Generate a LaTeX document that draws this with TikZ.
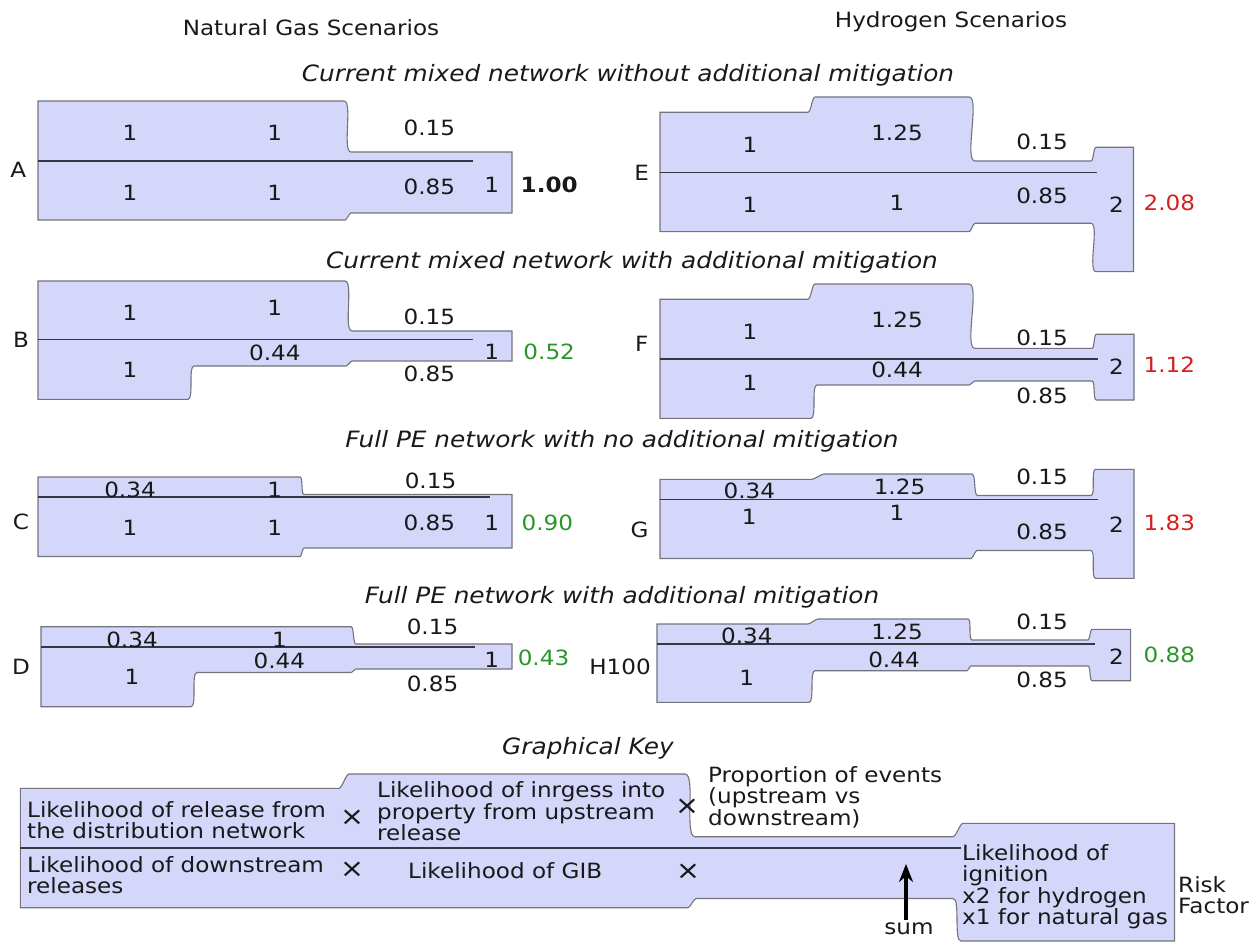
\documentclass[tikz,border=0pt]{standalone}
\usepackage{fontspec}
\setmainfont{DejaVu Sans}[FakeStretch=1.1]
\usetikzlibrary{arrows.meta}
\definecolor{bandfill}{RGB}{212,215,250}
\definecolor{bandedge}{RGB}{115,115,125}
\definecolor{midline}{RGB}{55,55,68}
\definecolor{txt}{RGB}{25,25,25}
\definecolor{good}{RGB}{40,150,40}
\definecolor{bad}{RGB}{215,30,30}
\newcommand\bodyfs{\fontsize{21}{21.5}\selectfont}
\newcommand\titlefs{\fontsize{22.5}{24}\selectfont\itshape}
\newcommand\crossfs{\fontsize{26}{26}\selectfont}
\begin{document}
\begin{tikzpicture}[x=1pt,y=-1pt,
  band/.style={fill=bandfill,draw=bandedge,line width=1.1pt},
  mid/.style={draw=midline,line width=1.6pt},
  sd/.style={out=0,in=180,looseness=0.45},
  su/.style={out=180,in=0,looseness=0.45},
  val/.style={font=\bodyfs,text=txt,inner sep=0pt,anchor=center},
  cross/.style={font=\crossfs,text=txt,inner sep=0pt,anchor=center},
  ttl/.style={font=\titlefs,text=txt,inner sep=0pt,anchor=center},
  keytext/.style={font=\bodyfs,text=txt,inner sep=0pt,anchor=west,align=left},
  goodv/.style={val,text=good},
  badv/.style={val,text=bad},
  arr/.style={-{Stealth[length=18pt,width=14pt]},line width=3.2pt,draw=black}]
\useasboundingbox (0,0) rectangle (1254,944);

% headings
\node[val] (ng) at (311,28) {Natural Gas Scenarios};
\node[val] (hs) at (951,22) {Hydrogen Scenarios};
\node[ttl] (t1) at (628,75) {Current mixed network without additional mitigation};
\node[ttl] (t2) at (632,262) {Current mixed network with additional mitigation};
\node[ttl] (t3) at (622,441) {Full PE network with no additional mitigation};
\node[ttl] (t4) at (622,597) {Full PE network with additional mitigation};
\node[ttl] (tk) at (588,748) {Graphical Key};

% ---------- Panel A ----------
\draw[band] (38,101) -- (344,101) to[sd] (351,152) -- (512,152) -- (512,213) -- (351,213) to[su] (345,220) -- (38,220) -- cycle;
\draw[mid] (38,161) -- (472.6,161);
\node[val] (lA) at (18.4,170) {A};
\node[val] (a1) at (130,133.3) {1};
\node[val] (a2) at (274.8,133.3) {1};
\node[val] (a3) at (429.4,128.3) {0.15};
\node[val] (a4) at (130,193.3) {1};
\node[val] (a5) at (274.8,193.3) {1};
\node[val] (a6) at (429.4,186.7) {0.85};
\node[val] (a7) at (491.8,185) {1};
\node[val] (a8) at (549.2,185) {\bfseries 1.00};

% ---------- Panel B ----------
\draw[band] (38,281) -- (345,281) to[sd] (352,331) -- (512,331) -- (512,361) -- (352,361) to[su] (346,366) -- (194,366) to[su] (188,399.3) -- (38,399.3) -- cycle;
\draw[mid] (38,339.5) -- (472.6,339.5);
\node[val] (lB) at (21,340) {B};
\node[val] (b1) at (130,313.3) {1};
\node[val] (b2) at (274.8,308.3) {1};
\node[val] (b3) at (429.4,316.7) {0.15};
\node[val] (b4) at (130,370) {1};
\node[val] (b5) at (274.8,353.3) {0.44};
\node[val] (b6) at (429.4,374.3) {0.85};
\node[val] (b7) at (491.8,351.7) {1};
\node[goodv] (b8) at (549.2,351.7) {0.52};

% ---------- Panel C ----------
\draw[band] (38,477) -- (300,477) to[sd] (304,494.5) -- (512,494.5) -- (512,548) -- (304,548) to[su] (300,556.5) -- (38,556.5) -- cycle;
\draw[mid] (38,497) -- (490,497);
\node[val] (lC) at (21,521.7) {C};
\node[val] (c1) at (130,490) {0.34};
\node[val] (c2) at (274.8,490) {1};
\node[val] (c3) at (430.5,480.7) {0.15};
\node[val] (c4) at (130,528.3) {1};
\node[val] (c5) at (274.8,528.3) {1};
\node[val] (c6) at (429.4,523.3) {0.85};
\node[val] (c7) at (491.8,523.3) {1};
\node[goodv] (c8) at (547.3,523.3) {0.90};

% ---------- Panel D ----------
\draw[band] (41,626.7) -- (351,626.7) to[sd] (356,644) -- (512,644) -- (512,669) -- (356,669) to[su] (351,672.5) -- (197,672.5) to[su] (191,706.7) -- (41,706.7) -- cycle;
\draw[mid] (41,646.7) -- (474.5,646.7);
\node[val] (lD) at (21,667.3) {D};
\node[val] (d1) at (132,640) {0.34};
\node[val] (d2) at (279.4,640) {1};
\node[val] (d3) at (432.5,626.7) {0.15};
\node[val] (d4) at (132,676.7) {1};
\node[val] (d5) at (279.4,661) {0.44};
\node[val] (d6) at (432.5,684) {0.85};
\node[val] (d7) at (491.8,660) {1};
\node[goodv] (d8) at (543.5,658.3) {0.43};

% ---------- Panel E ----------
\draw[band] (660,112.3) -- (808,112.3) to[sd] (815,97) -- (969,97) to[sd] (975,161) -- (1091,161) to[sd] (1096,147.3) -- (1133.5,147.3) -- (1133.5,271.7) -- (1096,271.7) to[su] (1091,223.3) -- (975,223.3) to[su] (969,231.7) -- (660,231.7) -- cycle;
\draw[mid] (660,172.5) -- (1097,172.5);
\node[val] (lE) at (641.7,173.3) {E};
\node[val] (e1) at (750,145) {1};
\node[val] (e2) at (897,133.3) {1.25};
\node[val] (e3) at (1042,141.7) {0.15};
\node[val] (e4) at (750,205) {1};
\node[val] (e5) at (897,202.7) {1};
\node[val] (e6) at (1042,196) {0.85};
\node[val] (e7) at (1116.4,205) {2};
\node[badv] (e8) at (1169.3,202.7) {2.08};

% ---------- Panel F ----------
\draw[band] (660,299.3) -- (808,299.3) to[sd] (815,284) -- (969,284) to[sd] (975,348.3) -- (1092,348.3) to[sd] (1096.3,334.3) -- (1134,334.3) -- (1134,400) -- (1096.3,400) to[su] (1092,381) -- (975,381) to[su] (969,385) -- (817,385) to[su] (811,418.3) -- (660,418.3) -- cycle;
\draw[mid] (660,359) -- (1098,359);
\node[val] (lF) at (641.7,344) {F};
\node[val] (f1) at (750,331.7) {1};
\node[val] (f2) at (897,320) {1.25};
\node[val] (f3) at (1042,338.3) {0.15};
\node[val] (f4) at (750,383.3) {1};
\node[val] (f5) at (897,370) {0.44};
\node[val] (f6) at (1042,396) {0.85};
\node[val] (f7) at (1116.4,366.7) {2};
\node[badv] (f8) at (1169.3,365) {1.12};

% ---------- Panel G ----------
\draw[band] (660,479.3) -- (812,479.3) to[sd] (824,474) -- (972,474) to[sd] (977.5,495.5) -- (1091,495.5) to[sd] (1095.5,469.3) -- (1134,469.3) -- (1134,578.3) -- (1095.5,578.3) to[su] (1091,550.5) -- (977,550.5) to[su] (971,558.5) -- (660,558.5) -- cycle;
\draw[mid] (660,499.5) -- (1098,499.5);
\node[val] (lG) at (639.6,530) {G};
\node[val] (g1) at (749.3,490.7) {0.34};
\node[val] (g2) at (899.5,487.3) {1.25};
\node[val] (g3) at (1042,477.3) {0.15};
\node[val] (g4) at (749.3,516.7) {1};
\node[val] (g5) at (897,513.3) {1};
\node[val] (g6) at (1042,531.7) {0.85};
\node[val] (g7) at (1116.4,525) {2};
\node[badv] (g8) at (1169.3,522.7) {1.83};

% ---------- Panel H100 ----------
\draw[band] (657,624) -- (808,624) to[sd] (818,619) -- (968,619) to[sd] (972,640) -- (1088,640) to[sd] (1092,629.3) -- (1130.6,629.3) -- (1130.6,680.7) -- (1092,680.7) to[su] (1088,666) -- (971,666) to[su] (967,670.7) -- (815,670.7) to[su] (809,702.3) -- (657,702.3) -- cycle;
\draw[mid] (657,644) -- (1095,644);
\node[val,anchor=east] (lH) at (651,667) {H100};
\node[val] (h1) at (746.8,636) {0.34};
\node[val] (h2) at (897,631.7) {1.25};
\node[val] (h3) at (1042,621.7) {0.15};
\node[val] (h4) at (746.8,678.3) {1};
\node[val] (h5) at (894,660) {0.44};
\node[val] (h6) at (1042,680) {0.85};
\node[val] (h7) at (1116.4,656.7) {2};
\node[goodv] (h8) at (1169.3,655) {0.88};

% ---------- Graphical key ----------
\draw[band] (20.4,788.3) -- (339,788.3) to[sd] (349,774) -- (685,774) to[sd] (695,836.7) -- (953,836.7) to[sd] (963,823.3) -- (1174.5,823.3) -- (1174.5,941) -- (961,941) to[su] (953,898.5) -- (696,898.5) to[su] (688,907.7) -- (20.4,907.7) -- cycle;
\draw[mid] (20.4,847.7) -- (961,847.7);
\node[keytext] (k1) at (27,820) {Likelihood of release from\\the distribution network};
\node[cross] (x1) at (352,818) {×};
\node[keytext] (k2) at (377,811.5) {Likelihood of inrgess into\\property from upstream\\release};
\node[cross] (x2) at (687,807) {×};
\node[keytext] (k3) at (708,797) {Proportion of events\\(upstream vs\\downstream)};
\node[keytext] (k4) at (27,875) {Likelihood of downstream\\releases};
\node[cross] (x3) at (352,870) {×};
\node[keytext] (k5) at (408,871) {Likelihood of GIB};
\node[cross] (x4) at (688,872) {×};
\node[keytext] (k6) at (962,886.5) {Likelihood of\\ignition\\x2 for hydrogen\\x1 for natural gas};
\node[keytext] (k7) at (1178,895) {Risk\\Factor};
\node[val] (sum) at (909,929) {sum};
\coordinate (tip) at (906,864);
\draw[arr] (sum.north -| tip) ++(0,-3) -- (tip);
\end{tikzpicture}
\end{document}
